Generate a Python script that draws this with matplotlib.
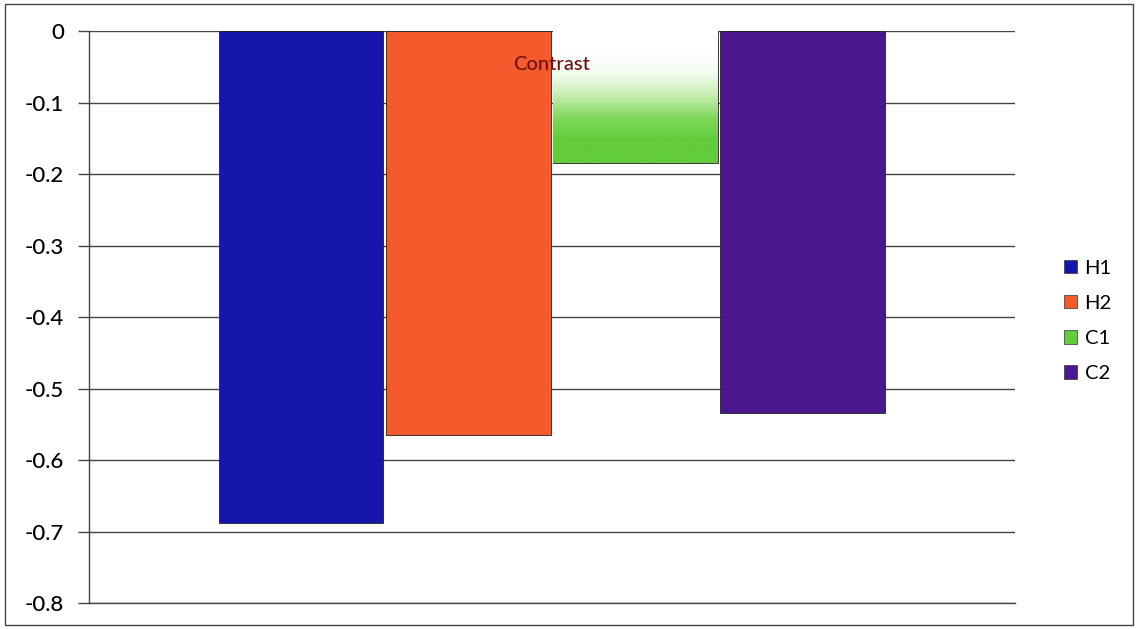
import numpy as np
import matplotlib.pyplot as plt
from matplotlib.colors import LinearSegmentedColormap
from matplotlib.patches import Rectangle

plt.rcParams["font.family"] = ["Lato", "DejaVu Sans"]

series = ["H1", "H2", "C1", "C2"]
values = [-0.688, -0.565, -0.185, -0.534]
colors = ["#1616aa", "#f45a2c", "#62cc3c", "#4a178f"]
yticks = [0, -0.1, -0.2, -0.3, -0.4, -0.5, -0.6, -0.7, -0.8]

fig = plt.figure(figsize=(11.36, 6.29), dpi=100)
fig.patches.append(Rectangle((0.004, 0.006), 0.993, 0.988, transform=fig.transFigure,
                             fill=False, edgecolor="#444444", linewidth=1.0))
ax = fig.add_axes([0.0783, 0.0413, 0.815, 0.9094])

x = np.arange(len(series))
bars = ax.bar(x, values, width=0.985, color=colors, edgecolor="#222222",
              linewidth=0.6, zorder=3, label=series)

# C1 fades from white at the top into green
green = bars[2]
cmap = LinearSegmentedColormap.from_list(
    "fade", ["#ffffff", "#ffffff", "#f2fbee", "#c3ecad", "#7fd75a", colors[2], colors[2]])
grad = np.linspace(0, 1, 200).reshape(-1, 1)
bx, bw = green.get_x(), green.get_width()
img = ax.imshow(grad, cmap=cmap, aspect="auto", origin="upper",
                extent=[bx, bx + bw, values[2], 0], zorder=3.5)
img.set_clip_path(green)

ax.set_xlim(-1.27, 4.27)
ax.set_ylim(-0.8, 0)
ax.set_yticks(yticks)
ax.set_yticklabels(["0" if v == 0 else f"{v:.1f}" for v in yticks],
                   fontsize=16, fontweight="medium")
ax.yaxis.grid(True, color="#444444", linewidth=1.0, zorder=0)
ax.tick_params(axis="y", length=8, width=1.0, color="#444444", pad=10)
ax.set_xticks([])
for side in ["top", "right"]:
    ax.spines[side].set_visible(False)
for side in ["left", "bottom"]:
    ax.spines[side].set_color("#444444")
    ax.spines[side].set_linewidth(1.0)

ax.text(0.5, 0.942, "Contrast", transform=ax.transAxes, ha="center", va="center",
        fontsize=14.5, fontweight="medium", color="#6e1010", zorder=5)

handles = [Rectangle((0, 0), 1, 1, facecolor=c, edgecolor="#333333", linewidth=0.5) for c in colors]
fig.legend(handles, series, loc="center left", bbox_to_anchor=(0.921, 0.49),
           frameon=False, fontsize=14.5, handlelength=0.65, handleheight=0.65,
           handletextpad=0.35, labelspacing=0.9)

fig.savefig("out.png", dpi=100)
